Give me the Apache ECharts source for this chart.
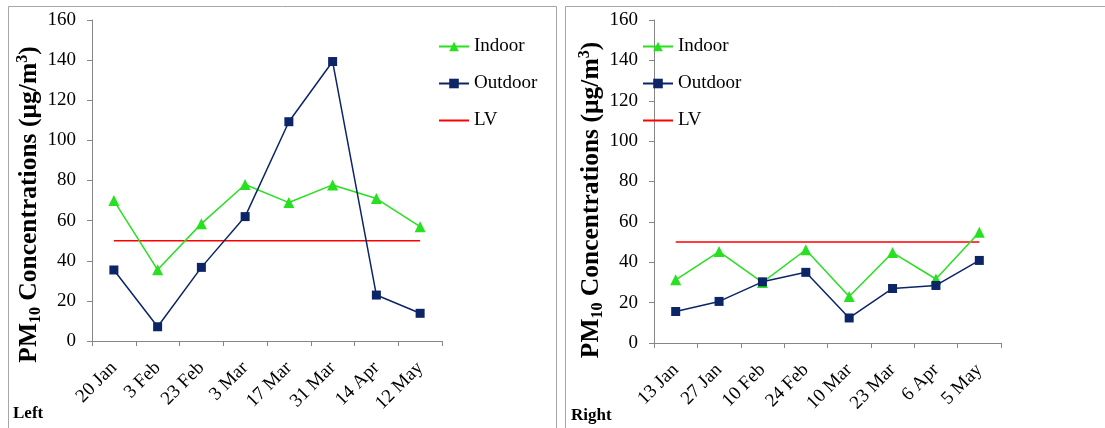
<!DOCTYPE html>
<html>
<head>
<meta charset="utf-8">
<script src="https://cdn.jsdelivr.net/npm/echarts@6/dist/echarts.min.js"></script>
<style>
html,body{margin:0;padding:0;background:#fff;}
#chart{width:1105px;height:428px;}
</style>
</head>
<body>
<div id="chart"></div>
<script>
const leftCategories = ['20 Jan', '3 Feb', '23 Feb', '3 Mar', '17 Mar', '31 Mar', '14 Apr', '12 May'];
const leftIndoor = [70, 35.5, 58.5, 78, 69, 77.8, 71, 57];
const leftOutdoor = [35.4, 7.1, 36.7, 62, 109.3, 139.3, 22.9, 13.8];
const leftLV = [50, 50, 50, 50, 50, 50, 50, 50];

const rightCategories = ['13 Jan', '27 Jan', '10 Feb', '24 Feb', '10 Mar', '23 Mar', '6 Apr', '5 May'];
const rightIndoor = [31.3, 45.3, 30, 46.2, 23, 44.8, 31.7, 54.9];
const rightOutdoor = [15.6, 20.6, 30.3, 35, 12.4, 27, 28.5, 40.9];
const rightLV = [50, 50, 50, 50, 50, 50, 50, 50];

const yTicks = { min: 0, max: 160, interval: 20 };
const panelLabels = ['Left', 'Right'];
const seriesNames = ['Indoor', 'Outdoor', 'LV'];

const SERIF = '"Liberation Serif", "Times New Roman", serif';
const GREEN = '#27e01f';
const NAVY = '#0b2566';
const RED = '#ff0000';
const AXIS = '#868686';

const yName = '{b|PM}{sub|10}{b| Concentrations (µg/m}{sup|3}{b|)}';
function yNameStyle(shift) {
  return {
    fontFamily: SERIF, fontSize: 25.5, fontWeight: 'bold', color: '#000',
    padding: [0, shift, 0, 0],
    rich: {
      b: { fontFamily: SERIF, fontSize: 25.5, fontWeight: 'bold', color: '#000' },
      sub: { fontFamily: SERIF, fontSize: 16, fontWeight: 'bold', color: '#000', padding: [12, 0, 0, 0] },
      sup: { fontFamily: SERIF, fontSize: 16, fontWeight: 'bold', color: '#000', padding: [0, 0, 13, 0] }
    }
  };
}

function xAxisFor(grid, cats) {
  return {
    type: 'category', gridIndex: grid, data: cats, boundaryGap: true,
    axisLine: { lineStyle: { color: AXIS, width: 1 } },
    axisTick: { show: true, length: 5, lineStyle: { color: AXIS } },
    axisLabel: { rotate: 45, fontFamily: SERIF, fontSize: 19, color: '#000', margin: 24,
      interval: 0, align: 'right', verticalAlign: 'middle' },
    splitLine: { show: false }
  };
}
function yAxisFor(grid, shift) {
  return {
    type: 'value', gridIndex: grid, min: yTicks.min, max: yTicks.max, interval: yTicks.interval,
    axisLine: { show: true, lineStyle: { color: AXIS, width: 1 } },
    axisTick: { show: true, length: 5, lineStyle: { color: AXIS } },
    axisLabel: { fontFamily: SERIF, fontSize: 19, color: '#000', margin: 16 },
    splitLine: { show: false },
    name: yName, nameLocation: 'middle', nameRotate: 90, nameGap: 44,
    nameTextStyle: yNameStyle(shift)
  };
}
function seriesFor(idx, indoor, outdoor, lv) {
  return [
    { name: 'Indoor', type: 'line', xAxisIndex: idx, yAxisIndex: idx, data: indoor,
      symbol: 'triangle', symbolSize: 11, color: GREEN,
      lineStyle: { color: GREEN, width: 1.5 }, itemStyle: { color: GREEN }, z: 3 },
    { name: 'Outdoor', type: 'line', xAxisIndex: idx, yAxisIndex: idx, data: outdoor,
      symbol: 'rect', symbolSize: 9, color: NAVY,
      lineStyle: { color: NAVY, width: 1.5 }, itemStyle: { color: NAVY }, z: 4 },
    { name: 'LV', type: 'line', xAxisIndex: idx, yAxisIndex: idx, data: lv,
      symbol: 'none', color: RED, lineStyle: { color: RED, width: 1.5 }, z: 2 }
  ];
}
function legendFor(left) {
  return {
    orient: 'vertical', left: left, top: 37, padding: 0, itemGap: 18, itemWidth: 30, itemHeight: 12,
    selectedMode: false,
    data: [
      { name: seriesNames[0] },
      { name: seriesNames[1] },
      { name: seriesNames[2], itemStyle: { opacity: 0 } }
    ],
    textStyle: { fontFamily: SERIF, fontSize: 19, color: '#000' }
  };
}

const chart = echarts.init(document.getElementById('chart'), null, { renderer: 'canvas' });
chart.setOption({
  animation: false,
  backgroundColor: '#fff',
  grid: [
    { left: 92, top: 20, width: 350, height: 321 },
    { left: 654, top: 20, width: 347, height: 323 }
  ],
  xAxis: [xAxisFor(0, leftCategories), xAxisFor(1, rightCategories)],
  yAxis: [yAxisFor(0, 48), yAxisFor(1, 37)],
  legend: [legendFor(438), legendFor(642)],
  series: [].concat(
    seriesFor(0, leftIndoor, leftOutdoor, leftLV),
    seriesFor(1, rightIndoor, rightOutdoor, rightLV)
  ),
  graphic: [
    { type: 'rect', shape: { x: 8.5, y: 6.5, width: 548, height: 440 }, style: { fill: 'none', stroke: '#a6a6a6', lineWidth: 1 }, silent: true },
    { type: 'rect', shape: { x: 565.5, y: 6.5, width: 545, height: 440 }, style: { fill: 'none', stroke: '#a6a6a6', lineWidth: 1 }, silent: true },
    { type: 'text', left: 13, top: 405, style: { text: panelLabels[0], font: 'bold 17px ' + SERIF, fill: '#000' } },
    { type: 'text', left: 571, top: 407, style: { text: panelLabels[1], font: 'bold 17px ' + SERIF, fill: '#000' } }
  ]
});
</script>
</body>
</html>
